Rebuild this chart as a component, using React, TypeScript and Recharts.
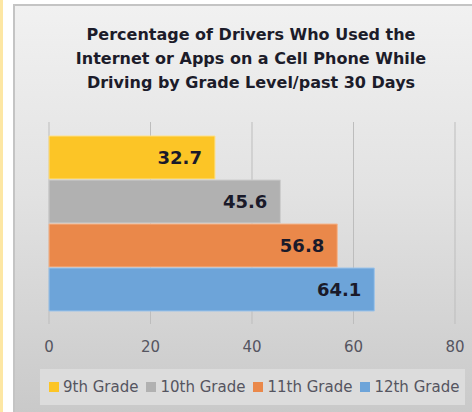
import React from "react";
import { BarChart, Bar, XAxis, YAxis, CartesianGrid, LabelList } from "recharts";

const titleLines = [
  "Percentage of Drivers Who Used the",
  "Internet or Apps on a Cell Phone While",
  "Driving by Grade Level/past 30 Days",
];
const category = ["Grade Level"];
const seriesNames = ["9th Grade", "10th Grade", "11th Grade", "12th Grade"];
const seriesKeys = ["g9", "g10", "g11", "g12"];
const seriesValues = [32.7, 45.6, 56.8, 64.1];
const seriesColors = ["#fcc526", "#b1b1b1", "#ea884a", "#6da4d9"];
const seriesStrokes = ["#fde08a", "#cdcdcd", "#f4b68e", "#9dc4ea"];
const xTicks = [0, 20, 40, 60, 80];

const data = category.map((c) => {
  const row: Record<string, any> = { name: c };
  seriesKeys.forEach((k, i) => (row[k] = seriesValues[i]));
  return row;
});

const FONT = "'DejaVu Sans', Verdana, sans-serif";

export default function App() {
  return (
    <div
      style={{
        position: "absolute",
        left: 0,
        top: 0,
        width: 472,
        height: 412,
        overflow: "hidden",
        background: "#ffffff",
        fontFamily: FONT,
      }}
    >
      <div style={{ position: "absolute", left: 0, top: 0, width: 3, height: 412, background: "#fde7a4" }} />
      <div
        style={{
          position: "absolute",
          left: 13,
          top: 4,
          width: 470,
          height: 420,
          boxSizing: "border-box",
          borderLeft: "2px solid #c4c4c4",
          borderTop: "2px solid #c4c4c4",
          background: "linear-gradient(180deg, #f1f1f1 0%, #e2e2e2 45%, #c8c8c8 100%)",
        }}
      />
      <div
        style={{
          position: "absolute",
          left: 51,
          width: 400,
          top: 23,
          textAlign: "center",
          fontSize: 16,
          lineHeight: "24px",
          fontWeight: 700,
          color: "#1c1c2a",
        }}
      >
        {titleLines.map((l, i) => (
          <div key={i}>{l}</div>
        ))}
      </div>
      <div
        style={{
          position: "absolute",
          left: 40,
          top: 369,
          width: 425,
          height: 36,
          background: "#dcdcdc",
        }}
      />
      <div
        style={{
          position: "absolute",
          left: 49,
          top: 369,
          height: 36,
          display: "flex",
          alignItems: "center",
          fontSize: 15,
          color: "#555560",
          whiteSpace: "nowrap",
        }}
      >
        {seriesNames.map((n, i) => (
          <div key={n} style={{ display: "flex", alignItems: "center", marginRight: i < 3 ? 8 : 0 }}>
            <span
              style={{
                display: "inline-block",
                width: 10,
                height: 10,
                background: seriesColors[i],
                marginRight: 4,
              }}
            />
            <span>{n}</span>
          </div>
        ))}
      </div>
      <div style={{ position: "absolute", left: 0, top: 0 }}>
        <BarChart
          width={472}
          height={412}
          data={data}
          layout="vertical"
          margin={{ top: 122, right: 17, left: 49, bottom: 58 }}
          barCategoryGap={14}
          barGap={1}
        >
          <CartesianGrid horizontal={false} stroke="#bdbdbd" />
          <XAxis
            type="number"
            domain={[0, 80]}
            ticks={xTicks}
            axisLine={false}
            tickLine={false}
            tickSize={0}
            tickMargin={17}
            height={30}
            tick={{ fontFamily: FONT, fontSize: 15, fill: "#555560" }}
            interval={0}
          />
          <YAxis
            type="category"
            dataKey="name"
            width={0}
            tick={false}
            tickLine={false}
            axisLine={{ stroke: "#5a5a5a", strokeWidth: 2 }}
          />
          {seriesKeys.map((k, i) => (
            <Bar
              key={k}
              dataKey={k}
              name={seriesNames[i]}
              fill={seriesColors[i]}
              stroke={seriesStrokes[i]}
              strokeWidth={1}
              isAnimationActive={false}
            >
              <LabelList
                dataKey={k}
                position="insideRight"
                offset={13}
                style={{ fontFamily: FONT, fontSize: 18, fontWeight: 700, fill: "#1a1a2a" }}
              />
            </Bar>
          ))}
        </BarChart>
      </div>
    </div>
  );
}
